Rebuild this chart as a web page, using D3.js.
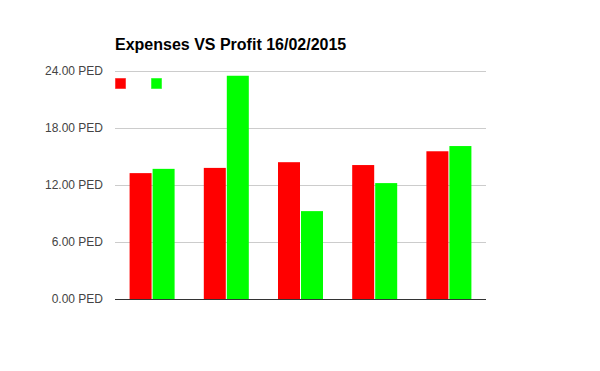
<!DOCTYPE html>
<html>
<head>
<meta charset="utf-8">
<script src="https://cdn.jsdelivr.net/npm/d3@7"></script>
<style>
  html, body { margin: 0; padding: 0; background: #fff; }
  svg { display: block; font-family: "Liberation Sans", Arial, sans-serif; }
</style>
</head>
<body>
<svg id="chart" width="600" height="371"></svg>
<script>
const title = "Expenses VS Profit 16/02/2015";
const categories = ["1", "2", "3", "4", "5"];
const seriesNames = ["Expenses", "Profit"];
const seriesColors = ["#ff0000", "#00ff00"];
const expenses = [13.25, 13.8, 14.4, 14.1, 15.55];
const profit = [13.7, 23.5, 9.25, 12.2, 16.1];
const yTicks = [0, 6, 12, 18, 24];

const svg = d3.select("#chart");
const plotLeft = 115, plotRight = 486, plotTop = 71, plotBottom = 299;

const y = d3.scaleLinear().domain([0, 24]).range([plotBottom, plotTop]);
const x0 = d3.scaleBand().domain(categories).range([plotLeft, plotRight])
  .paddingInner(0.3935).paddingOuter(0.3935 / 2);
const x1 = d3.scaleBand().domain(seriesNames).range([0, x0.bandwidth()]).paddingInner(0.0435);

// gridlines
svg.append("g").selectAll("line").data(yTicks.filter(d => d !== 0)).join("line")
  .attr("x1", plotLeft).attr("x2", plotRight)
  .attr("y1", d => Math.round(y(d)) + 0.5).attr("y2", d => Math.round(y(d)) + 0.5)
  .attr("stroke", "#cccccc").attr("stroke-width", 1);

// y axis labels
const yAxis = d3.axisLeft(y).tickValues(yTicks).tickSize(0).tickPadding(0)
  .tickFormat(d => d3.format(".2f")(d) + " PED");
const ga = svg.append("g").attr("transform", `translate(${plotLeft - 12},0)`).call(yAxis);
ga.select(".domain").remove();
ga.selectAll("text").attr("font-size", 12).attr("fill", "#444444")
  .attr("font-family", "'Liberation Sans', Arial, sans-serif");

// bars
const data = categories.map((c, i) => ({ cat: c, values: [expenses[i], profit[i]] }));
const groups = svg.append("g").selectAll("g").data(data).join("g")
  .attr("transform", d => `translate(${x0(d.cat)},0)`);
groups.selectAll("rect").data(d => d.values.map((v, j) => ({ v, j }))).join("rect")
  .attr("x", d => x1(seriesNames[d.j]))
  .attr("width", x1.bandwidth())
  .attr("y", d => y(d.v))
  .attr("height", d => y(0) - y(d.v))
  .attr("fill", d => seriesColors[d.j]);

// baseline
svg.append("line").attr("x1", plotLeft).attr("x2", plotRight)
  .attr("y1", Math.round(y(0)) + 0.5).attr("y2", Math.round(y(0)) + 0.5)
  .attr("stroke", "#333333").attr("stroke-width", 1);

// legend (squares only)
const legendX = d3.scaleOrdinal().domain(seriesNames).range([116, 152]);
svg.append("g").selectAll("rect").data(seriesNames).join("rect")
  .attr("x", d => legendX(d) - 0.5).attr("y", 78.5)
  .attr("width", 10).attr("height", 10)
  .attr("fill", (d, i) => seriesColors[i])
  .attr("stroke", (d, i) => seriesColors[i]).attr("stroke-opacity", 0.5).attr("stroke-width", 1);

// title
svg.append("text").attr("x", 115).attr("y", 50)
  .attr("font-size", 16).attr("font-weight", "bold").attr("fill", "#000")
  .text(title);
</script>
</body>
</html>
